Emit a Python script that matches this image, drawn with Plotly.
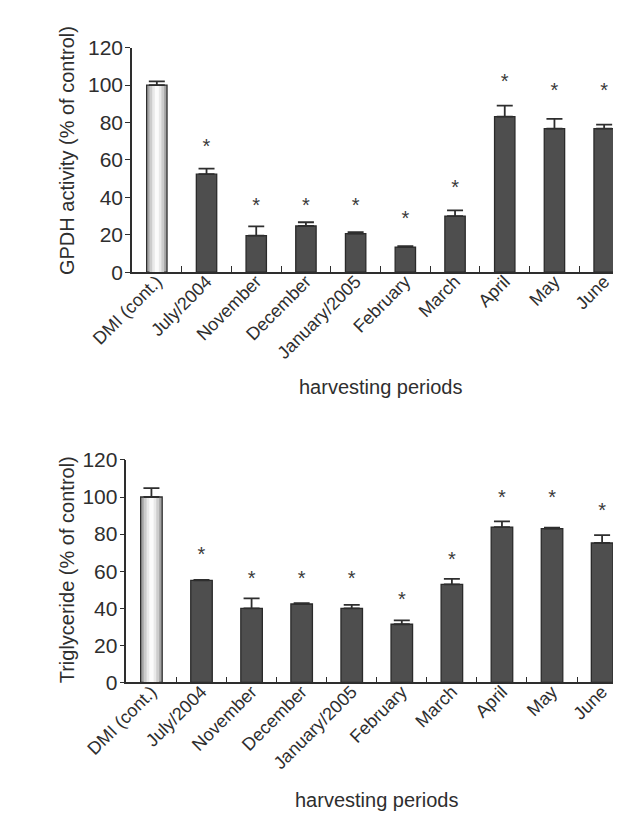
import plotly.graph_objects as go

categories = ["DMI (cont.)", "July/2004", "November", "December", "January/2005",
              "February", "March", "April", "May", "June"]

gpdh_values = [100, 52.4, 19.5, 24.7, 20.6, 13.4, 30.0, 83.2, 76.7, 76.7]
gpdh_errors = [2.0, 3.0, 5.0, 2.0, 0.8, 0.5, 3.0, 5.8, 5.2, 2.2]
gpdh_stars = [None, 66.4, 35.1, 35.1, 35.1, 27.8, 44.7, 101.2, 96.3, 96.3]

tg_values = [100, 55.0, 40.0, 42.3, 40.0, 31.4, 52.9, 83.8, 83.0, 75.2]
tg_errors = [4.8, 0.3, 5.3, 0.5, 1.8, 2.1, 3.0, 3.1, 0.5, 4.3]
tg_stars = [None, 68.0, 55.0, 55.0, 55.4, 43.7, 65.5, 99.0, 99.0, 91.7]

y_ticks = [0, 20, 40, 60, 80, 100, 120]

FONT = "Liberation Sans, Arial, sans-serif"
INK = "#2e2e2e"
DARK_FILL = "#4e4e4e"

fig = go.Figure()


def add_panel(values, errors, stars, xa, ya, bw):
    n = len(values)
    ctrl_vals = [v if i == 0 else None for i, v in enumerate(values)]
    other_vals = [None if i == 0 else v for i, v in enumerate(values)]
    # control bar with cylindrical shading (overlaid bars of decreasing width)
    shades = [(bw, "#a4a4a4", 1.3), (bw * 0.72, "#cccccc", 0), (bw * 0.45, "#e9e9e9", 0), (bw * 0.2, "#fbfbfb", 0)]
    for w, col, lw in shades:
        fig.add_trace(go.Bar(x=categories, y=ctrl_vals, width=w, xaxis=xa, yaxis=ya,
                             marker=dict(color=col, line=dict(color=INK, width=lw)),
                             showlegend=False, hoverinfo="skip"))
    fig.add_trace(go.Bar(x=categories, y=other_vals, width=bw, xaxis=xa, yaxis=ya,
                         marker=dict(color=DARK_FILL, line=dict(color="#2a2a2a", width=1.3)),
                         showlegend=False))
    # upward error bars
    fig.add_trace(go.Scatter(x=categories, y=values, xaxis=xa, yaxis=ya, mode="markers",
                             marker=dict(size=1, color="rgba(0,0,0,0)"),
                             error_y=dict(type="data", array=errors, arrayminus=[0] * n,
                                          symmetric=False, color=INK, thickness=1.8, width=8),
                             showlegend=False, hoverinfo="skip"))
    # significance stars
    fig.add_trace(go.Scatter(x=categories, y=stars, xaxis=xa, yaxis=ya, mode="text",
                             text=["*"] * n, textposition="middle center",
                             textfont=dict(family=FONT, size=20, color="#3a3a3a"),
                             showlegend=False, hoverinfo="skip"))


add_panel(gpdh_values, gpdh_errors, gpdh_stars, "x", "y", 0.41)
add_panel(tg_values, tg_errors, tg_stars, "x2", "y2", 0.43)

xaxis_common = dict(type="category", categoryorder="array", categoryarray=categories,
                    range=[-0.5, 9.5], tickson="boundaries", ticks="inside", ticklen=6,
                    tickwidth=1.3, tickcolor=INK, showline=True, linecolor=INK, linewidth=1.5,
                    tickangle=-45, showgrid=False, zeroline=False, ticklabelstandoff=-10,
                    tickfont=dict(family=FONT, size=18, color=INK))
yaxis_common = dict(range=[0, 120], tickvals=y_ticks, ticks="outside", ticklen=5, tickwidth=1.3,
                    tickcolor=INK, showline=True, linecolor=INK, linewidth=1.5,
                    showgrid=False, zeroline=False, ticklabelstandoff=-2,
                    tickfont=dict(family=FONT, size=21, color=INK))

fig.update_layout(
    width=621, height=815,
    margin=dict(l=0, r=0, t=0, b=0),
    paper_bgcolor="white", plot_bgcolor="white",
    barmode="overlay",
    xaxis=dict(domain=[87 / 621, 1.0], anchor="y", **xaxis_common),
    yaxis=dict(domain=[1 - 259.5 / 815, 1 - 28.5 / 815], anchor="x", **yaxis_common),
    xaxis2=dict(domain=[81 / 621, 619 / 621], anchor="y2", **xaxis_common),
    yaxis2=dict(domain=[1 - 681.7 / 815, 1 - 452.7 / 815], anchor="x2", **yaxis_common),
    annotations=[
        dict(text="GPDH activity (% of control)", xref="paper", yref="paper",
             x=17 / 621, y=1 - 134 / 815, textangle=-90, showarrow=False,
             font=dict(family=FONT, size=20, color=INK), xanchor="center", yanchor="middle"),
        dict(text="Triglyceride (% of control)", xref="paper", yref="paper",
             x=17.5 / 621, y=1 - 566 / 815, textangle=-90, showarrow=False,
             font=dict(family=FONT, size=20, color=INK), xanchor="center", yanchor="middle"),
        dict(text="harvesting periods", xref="paper", yref="paper",
             x=354 / 621, y=1 - 378 / 815, showarrow=False,
             font=dict(family=FONT, size=20, color=INK), xanchor="center", yanchor="middle"),
        dict(text="harvesting periods", xref="paper", yref="paper",
             x=350 / 621, y=1 - 803 / 815, showarrow=False,
             font=dict(family=FONT, size=20, color=INK), xanchor="center", yanchor="middle"),
    ],
)

fig.write_html("out.html")
